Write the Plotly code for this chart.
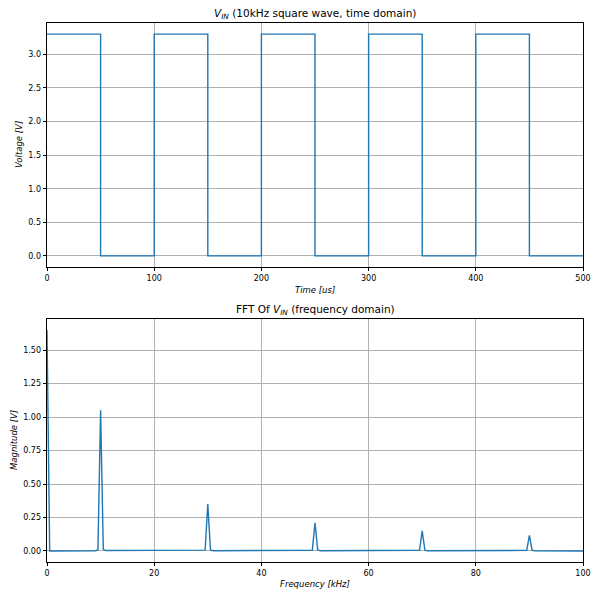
import plotly.graph_objects as go

# time domain: 10kHz square wave, 0..3.3V (step vertices)
time_us = [0, 50, 100, 150, 200, 250, 300, 350, 400, 450, 500]
vin = [3.3, 0.0, 3.3, 0.0, 3.3, 0.0, 3.3, 0.0, 3.3, 0.0, 0.0]

# frequency domain: magnitude spectrum vertices (kHz, V)
fft_freq = [0, 0.5, 9.0, 9.5, 10, 10.5, 11.0,
            29.0, 29.5, 30, 30.5, 31.0,
            49.0, 49.5, 50, 50.5, 51.0,
            69.0, 69.5, 70, 70.5, 71.0,
            89.0, 89.5, 90, 90.5, 91.0, 100]
fft_mag = [1.65, 0.0, 0.002, 0.008, 1.05, 0.012, 0.003,
           0.001, 0.006, 0.35, 0.008, 0.002,
           0.001, 0.005, 0.21, 0.007, 0.002,
           0.001, 0.005, 0.15, 0.006, 0.002,
           0.001, 0.004, 0.117, 0.006, 0.002, 0.0]

BLUE = '#1f77b4'
FONT = 'DejaVu Sans'
W = H = 600


def px_x(x):
    return x / W


def px_y(y):
    return 1 - y / H


fig = go.Figure()
fig.add_trace(go.Scatter(x=time_us, y=vin, mode='lines', line_shape='hv',
                         line=dict(color=BLUE, width=1.4), xaxis='x', yaxis='y'))
fig.add_trace(go.Scatter(x=fft_freq, y=fft_mag, mode='lines',
                         line=dict(color=BLUE, width=1.4), xaxis='x2', yaxis='y2'))

axis_style = dict(showgrid=True, gridcolor='#b0b0b0', gridwidth=0.8, automargin=False,
                  showline=True, mirror=True, linecolor='black', linewidth=0.8,
                  ticks='outside', ticklen=3.5, tickcolor='black', zeroline=False,
                  tickfont=dict(family=FONT, size=8, color='black'))

xdom = [px_x(47), px_x(583)]
fig.update_layout(
    width=W, height=H,
    margin=dict(l=0, r=0, t=0, b=0),
    paper_bgcolor='white', plot_bgcolor='white',
    showlegend=False,
    xaxis=dict(domain=xdom, range=[0, 500], tickvals=[0, 100, 200, 300, 400, 500],
               anchor='y', **axis_style),
    yaxis=dict(domain=[px_y(267), px_y(23)], range=[-0.165, 3.465], tickvals=[0, 0.5, 1, 1.5, 2, 2.5, 3],
               tickformat='.1f', anchor='x', **axis_style),
    xaxis2=dict(domain=xdom, range=[0, 100], tickvals=[0, 20, 40, 60, 80, 100],
                anchor='y2', **axis_style),
    yaxis2=dict(domain=[px_y(562), px_y(319)], range=[-0.0825, 1.7325],
                tickvals=[0, 0.25, 0.5, 0.75, 1.0, 1.25, 1.5], tickformat='.2f', anchor='x2', **axis_style),
)


def label(text, x, y, size=8.5, angle=0):
    fig.add_annotation(text=text, x=px_x(x), y=px_y(y), xref='paper', yref='paper',
                       showarrow=False, textangle=angle, xanchor='center', yanchor='middle',
                       font=dict(family=FONT, size=size, color='black'))


label('<i>V</i><sub><i>IN</i></sub> (10kHz square wave, time domain)', 315, 14, size=10.5)
label('FFT Of <i>V</i><sub><i>IN</i></sub> (frequency domain)', 315, 310, size=10.5)
label('<i>Time [us]</i>', 315, 290)
label('<i>Frequency [kHz]</i>', 315, 584)
label('<i>Voltage [V]</i>', 19, 145, angle=-90)
label('<i>Magnitude [V]</i>', 14, 440, angle=-90)

# drop the default page margin so the 600x600 figure fills the window
fig.write_html("out.html", config={'displayModeBar': False},
               post_script="document.body.style.margin='0';")
